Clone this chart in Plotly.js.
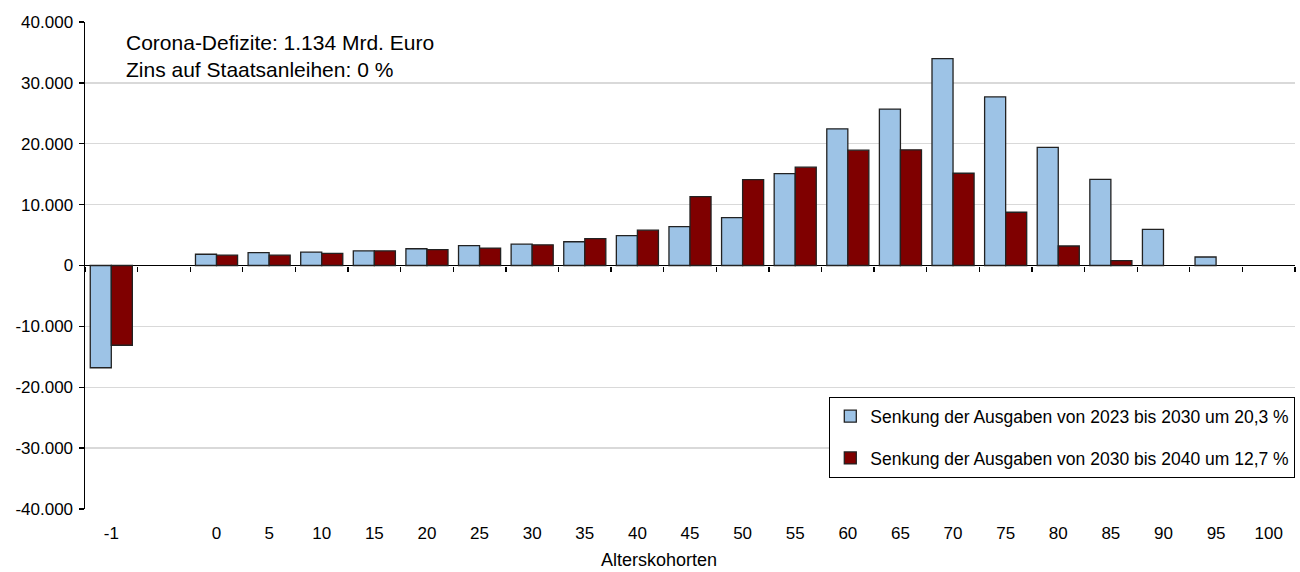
<!DOCTYPE html>
<html>
<head>
<meta charset="utf-8">
<script src="https://cdn.plot.ly/plotly-3.0.1.min.js"></script>
<style>html,body{margin:0;padding:0;background:#fff;}#chart{width:1300px;height:572px;}</style>
</head>
<body>
<div id="chart"></div>
<script>
const categories = ["-1", " ", "0", "5", "10", "15", "20", "25", "30", "35", "40", "45", "50", "55", "60", "65", "70", "75", "80", "85", "90", "95", "100"];
const series1Name = "Senkung der Ausgaben von 2023 bis 2030 um 20,3 %";
const series2Name = "Senkung der Ausgaben von 2030 bis 2040 um 12,7 %";
const series1 = [-16800, null, 1850, 2100, 2200, 2400, 2750, 3250, 3500, 3900, 4900, 6400, 7850, 15100, 22450, 25700, 34000, 27700, 19400, 14150, 5950, 1400, 0];
const series2 = [-13100, null, 1700, 1700, 2000, 2400, 2600, 2870, 3400, 4400, 5800, 11300, 14100, 16150, 18950, 19000, 15150, 8750, 3200, 800, 0, 0, 0];
const yTickVals = [-40000, -30000, -20000, -10000, 0, 10000, 20000, 30000, 40000];
const yTickLabels = ["-40.000", "-30.000", "-20.000", "-10.000", "0", "10.000", "20.000", "30.000", "40.000"];
const annotationText = "Corona-Defizite: 1.134 Mrd. Euro<br>Zins auf Staatsanleihen: 0 %";
const xTitle = "Alterskohorten";

const FAM = "Liberation Sans, Arial, sans-serif";
const font = {family: FAM, size: 17, color: "#000"};
const outline = vals => vals.map(v => (v === 0 || v === null) ? 0 : 1.3);

const traces = [
  {type: "bar", x: categories, y: series1, name: series1Name, legendgroup: "a",
   marker: {color: "#9DC3E6", line: {color: "#222", width: outline(series1)}}, hoverinfo: "skip"},
  {type: "bar", x: categories, y: series2, name: series2Name, legendgroup: "b",
   marker: {color: "#7F0000", line: {color: "#222", width: outline(series2)}}, hoverinfo: "skip"},
  {type: "scatter", x: categories, y: categories.map(() => 0), xaxis: "x2", mode: "markers",
   marker: {opacity: 0}, showlegend: false, hoverinfo: "skip"}
];

const layout = {
  width: 1300, height: 572,
  margin: {l: 85, r: 5, t: 22, b: 63},
  paper_bgcolor: "#fff", plot_bgcolor: "#fff",
  font: font,
  barmode: "group", bargap: 0.2, bargroupgap: 0,
  xaxis: {type: "category", categoryorder: "array", categoryarray: categories,
    range: [-0.5, categories.length - 0.5],
    showgrid: false, showline: false, zeroline: false, ticks: "",
    tickfont: font, ticklabelstandoff: 12},
  xaxis2: {type: "category", categoryorder: "array", categoryarray: categories,
    range: [-0.5, categories.length - 0.5], overlaying: "x", anchor: "free", position: 0.5,
    showgrid: false, showline: false, zeroline: false, showticklabels: false,
    ticks: "outside", tickson: "boundaries", ticklen: 5, tickwidth: 1.3, tickcolor: "#000"},
  yaxis: {range: [-40000, 40000], tickmode: "array", tickvals: yTickVals, ticktext: yTickLabels,
    showgrid: true, gridcolor: "#d9d9d9", gridwidth: 1.3,
    zeroline: true, zerolinecolor: "#000", zerolinewidth: 1.5,
    showline: true, linecolor: "#000", linewidth: 1.5,
    ticks: "outside", ticklen: 5, tickcolor: "#000", tickwidth: 1.3, tickfont: font,
    ticklabelstandoff: 2},
  legend: {x: 1, xanchor: "right", y: 0.23, yanchor: "top",
    bgcolor: "#fff", bordercolor: "#000", borderwidth: 1.3,
    font: {family: FAM, size: 17.5, color: "#000"}, traceorder: "grouped", tracegroupgap: 16,
    itemwidth: 30},
  annotations: [
    {xref: "paper", yref: "paper", x: 0.032, y: 0.985, xanchor: "left", yanchor: "top",
     text: annotationText, showarrow: false, align: "left",
     font: {family: FAM, size: 21, color: "#000"}},
    {xref: "paper", yref: "paper", x: 0.474, y: -0.105, xanchor: "center", yanchor: "middle",
     text: xTitle, showarrow: false,
     font: {family: FAM, size: 18, color: "#000"}}
  ]
};

Plotly.newPlot("chart", traces, layout, {displayModeBar: false, staticPlot: true});
</script>
</body>
</html>
